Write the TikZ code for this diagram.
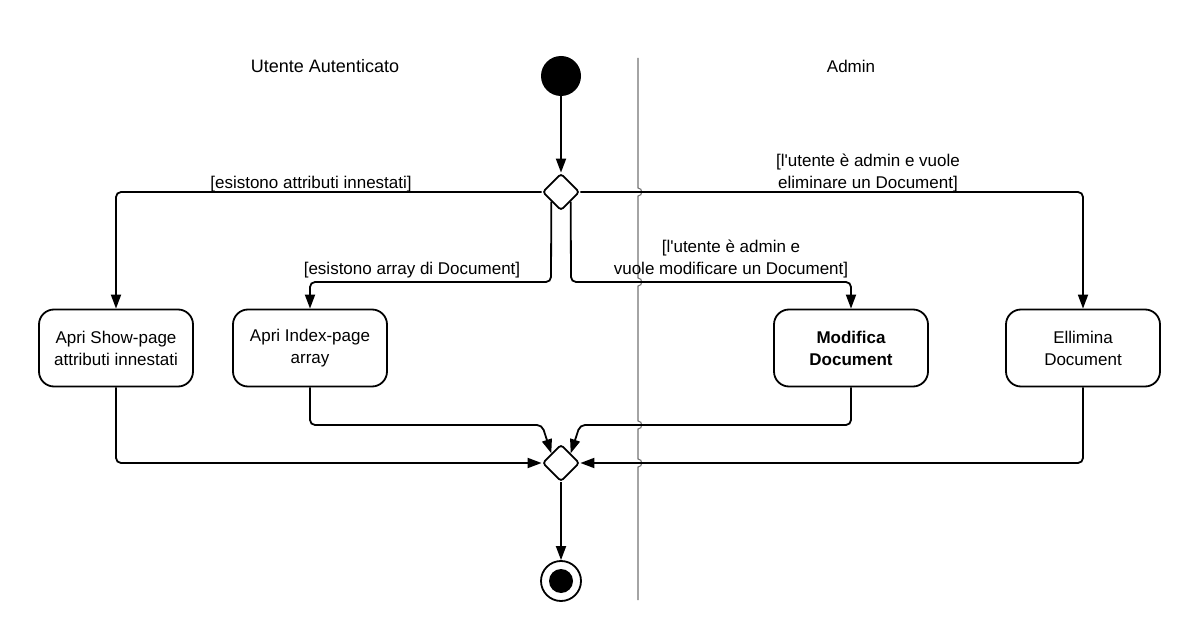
\documentclass[tikz,border=0pt]{standalone}
\usepackage{fontspec}
\setmainfont{Liberation Sans}
\usetikzlibrary{shapes.geometric,arrows.meta,calc}
\begin{document}
\begin{tikzpicture}[x=1pt,y=-1pt,
  every node/.style={font=\fontsize{17}{22}\selectfont},
  conn/.style={line width=1.8pt,rounded corners=5pt},
  arr/.style={conn,-{Triangle[length=14pt,width=10pt]}},
  actbox/.style={draw,line width=1.8pt,rounded corners=15pt,minimum width=154pt,minimum height=77pt,align=center,inner sep=2pt},
  decis/.style={draw,diamond,line width=1.8pt,rounded corners=3pt,minimum width=37pt,minimum height=37pt,inner sep=0pt,fill=white},
  lbl/.style={align=center,inner sep=0pt},
  lane/.style={draw=black!55,line width=1.1pt}]
\useasboundingbox (0,0) rectangle (1200,639);
% swimlane divider with jumps
\draw[lane] (638,58) -- (638,188) .. controls (643,188) and (643,196) .. (638,196)
  -- (638,278) .. controls (643,278) and (643,286) .. (638,286)
  -- (638,421) .. controls (643,421) and (643,429) .. (638,429)
  -- (638,459) .. controls (643,459) and (643,467) .. (638,467)
  -- (638,600);
\node[lbl,font=\fontsize{18}{22}\selectfont] (t1) at (325,66) {Utente Autenticato};
\node[lbl] (t2) at (851,66) {Admin};
% nodes
\node[circle,fill=black,minimum size=40pt,inner sep=0pt] (start) at (561,76) {};
\node[decis] (d1) at (561,192) {};
\node[actbox] (b1) at (116,348) {Apri Show-page\\attributi innestati};
\node[actbox] (b2) at (310,348) {Apri Index-page\\array};
\node[actbox] (b3) at (851,348) {\bfseries Modifica\\\bfseries Document};
\node[actbox] (b4) at (1083,348) {Ellimina\\Document};
\node[decis] (d2) at (561,463) {};
\node[circle,draw,line width=1.8pt,fill=white,minimum size=40pt,inner sep=0pt] (end) at (561,581) {};
\node[circle,fill=black,minimum size=24pt,inner sep=0pt] (endin) at (end.center) {};
\coordinate (j1) at (551,282);
\coordinate (j2) at (571,282);
\coordinate (k2) at (542,425);
\coordinate (k3) at (580,425);
% connectors
\draw[arr] (start) -- (d1.north);
\draw[arr] (d1.west) -| (b1.north);
\draw[arr] (d1.east) -| (b4.north);
\draw[arr] (d1.south west) -- (j1) -| (b2.north);
\draw[arr] (d1.south east) -- (j2) -| (b3.north);
\draw[arr] (b1.south) |- (d2.west);
\draw[arr] (b4.south) |- (d2.east);
\draw[arr] (b2.south) |- (k2) -- (d2.north west);
\draw[arr] (b3.south) |- (k3) -- (d2.north east);
\draw[arr] (d2.south) -- (end.north);
% labels
\node[lbl] (l1) at (311,184) {[esistono attributi innestati]};
\node[lbl] (l2) at (412,270) {[esistono array di Document]};
\node[lbl] (l3) at (731,259) {[l\textquotesingle utente è admin e\\vuole modificare un Document]};
\node[lbl] (l4) at (868,173) {[l\textquotesingle utente è admin e vuole\\eliminare un Document]};
\end{tikzpicture}
\end{document}
